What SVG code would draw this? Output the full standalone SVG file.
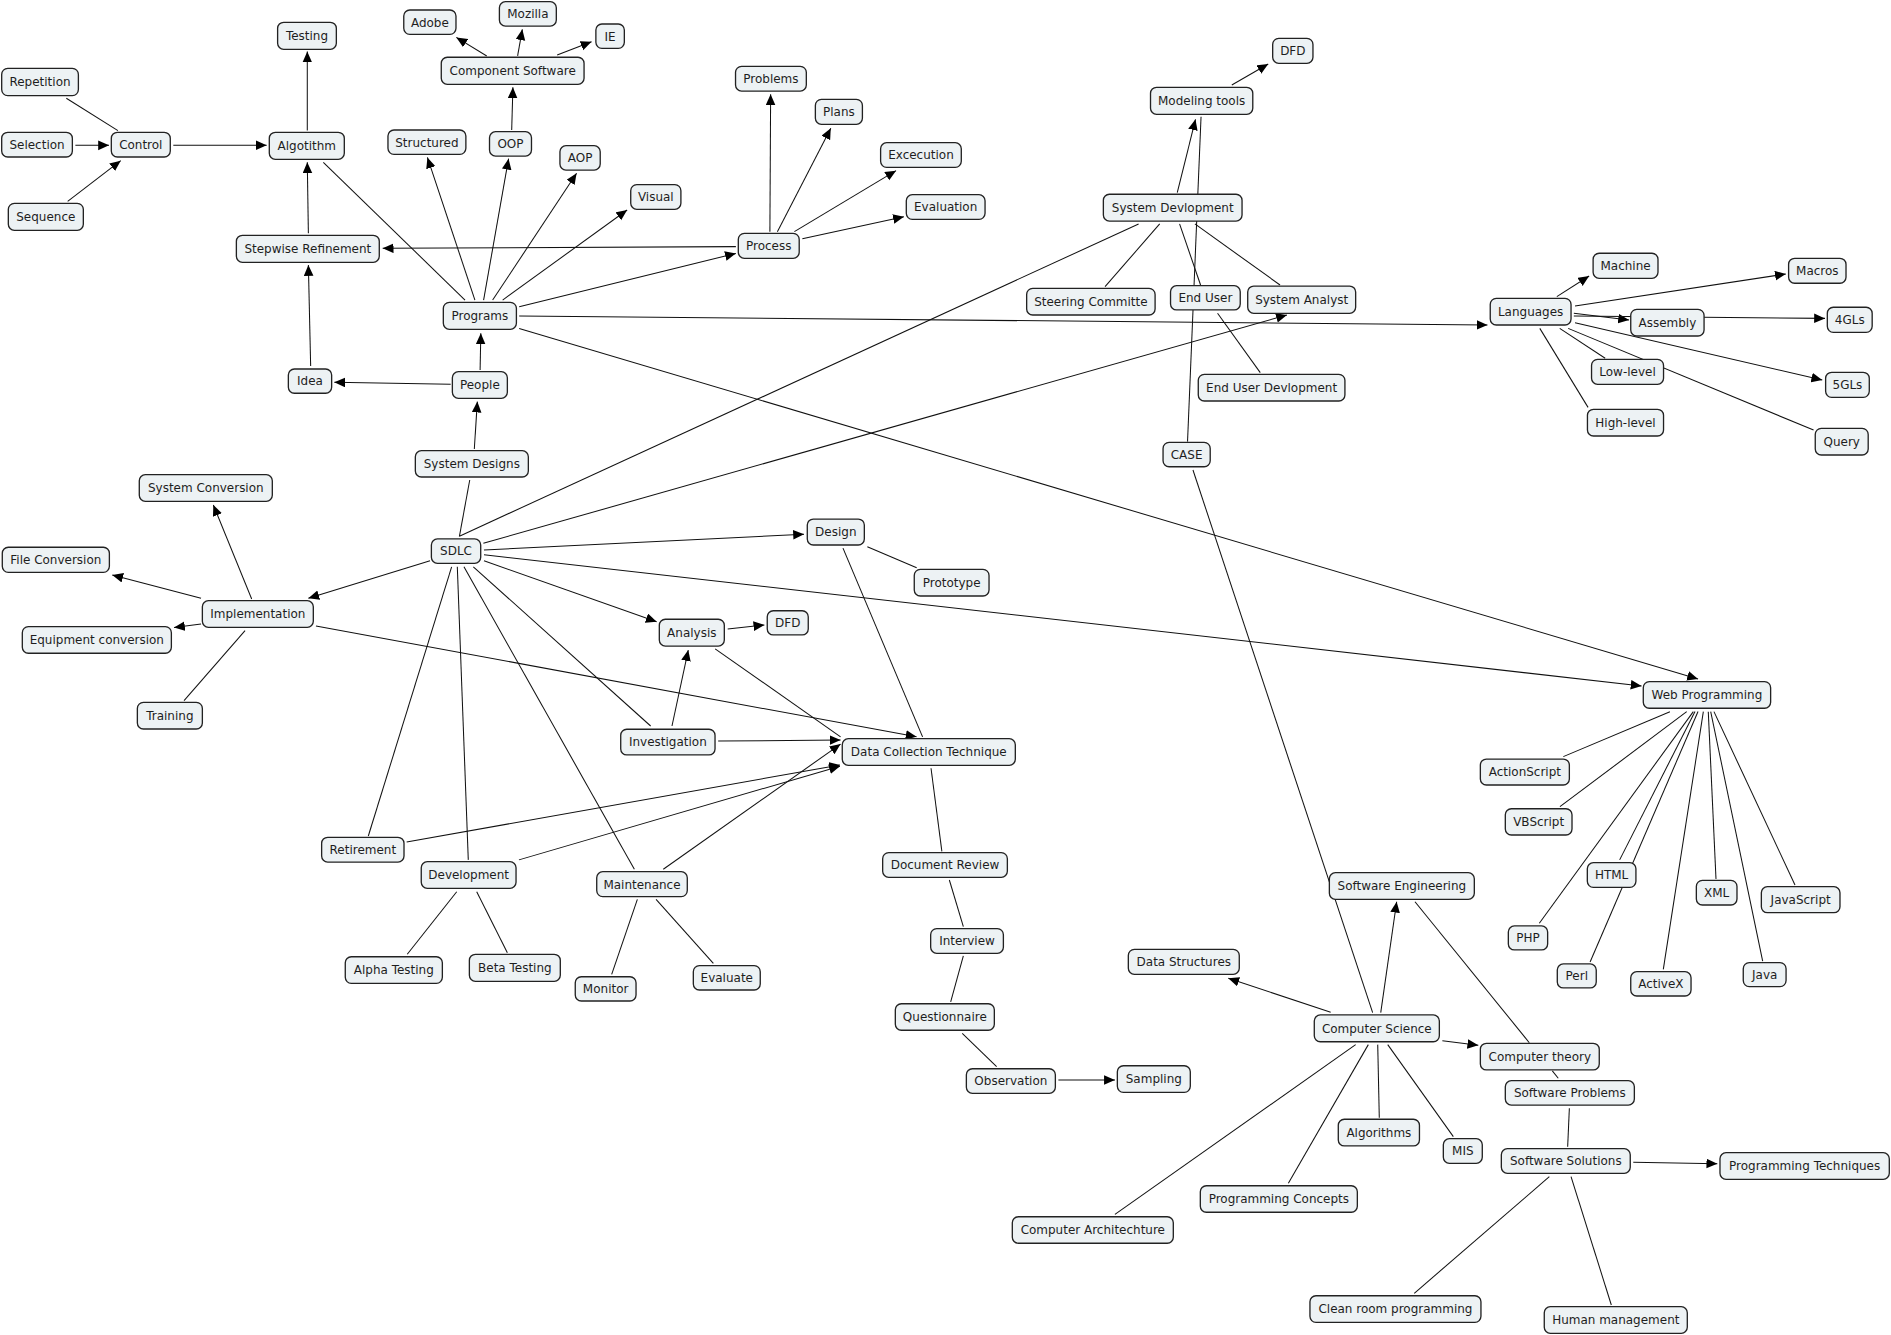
<svg xmlns="http://www.w3.org/2000/svg" width="1891" height="1335" viewBox="0 0 1891 1335">
<style>
.n rect{fill:#edf2f4;stroke:#222;stroke-width:1.1}
.n text{font-family:"DejaVu Sans","Liberation Sans",sans-serif;font-size:9.95px;fill:#1e1e1e;text-anchor:middle}
.c line{stroke:#111;stroke-width:0.85;fill:none}
.c line.a{marker-end:url(#ah)}
</style>
<defs>
<marker id="ah" markerUnits="userSpaceOnUse" markerWidth="10" markerHeight="9" refX="9" refY="4" orient="auto">
<path d="M0,0 L9,4 L0,8 z" fill="#000"/>
</marker>
</defs>
<rect x="0" y="0" width="1891" height="1335" fill="#fff"/>
<g transform="scale(1.20599)">
<g id="connectors" class="c">
<line x1="55" y1="81.5" x2="97.8" y2="108.3"/>
<line class="a" x1="62.5" y1="120.5" x2="90.4" y2="120.5"/>
<line class="a" x1="56.1" y1="167" x2="100.1" y2="133.2"/>
<line class="a" x1="143.7" y1="120.5" x2="221.1" y2="120.5"/>
<line class="a" x1="254.8" y1="108.3" x2="254.8" y2="42.8"/>
<line class="a" x1="255.7" y1="193.5" x2="254.8" y2="134.6"/>
<line x1="268.1" y1="134.6" x2="385.6" y2="248.8"/>
<line class="a" x1="610.2" y1="204.5" x2="317.3" y2="205.9"/>
<line class="a" x1="257.6" y1="303.5" x2="255.7" y2="219.7"/>
<line class="a" x1="373.7" y1="318.7" x2="277.2" y2="317"/>
<line class="a" x1="398.1" y1="306.8" x2="398.7" y2="276.4"/>
<line class="a" x1="393.3" y1="372.3" x2="395.8" y2="333"/>
<line x1="380.9" y1="445" x2="389.5" y2="398"/>
<line class="a" x1="393.8" y1="248.8" x2="354.4" y2="130.5"/>
<line class="a" x1="401" y1="248.8" x2="421.7" y2="131.6"/>
<line class="a" x1="408.5" y1="248.8" x2="478.1" y2="143.7"/>
<line class="a" x1="416.8" y1="248.8" x2="520" y2="174.1"/>
<line class="a" x1="424.3" y1="107.8" x2="425.3" y2="72.4"/>
<line class="a" x1="403.6" y1="46.4" x2="378.4" y2="31"/>
<line class="a" x1="429.2" y1="46.4" x2="433.1" y2="24.3"/>
<line class="a" x1="462" y1="45.6" x2="490.5" y2="34.6"/>
<line class="a" x1="430.5" y1="254.3" x2="610.2" y2="210.1"/>
<line class="a" x1="638.4" y1="192.1" x2="639" y2="78.2"/>
<line class="a" x1="644.6" y1="192.1" x2="688.9" y2="106.4"/>
<line class="a" x1="658.7" y1="192.1" x2="743" y2="141.5"/>
<line class="a" x1="665.3" y1="197.9" x2="749.5" y2="179.7"/>
<line class="a" x1="430.5" y1="262" x2="1233.4" y2="269.5"/>
<line class="a" x1="430.5" y1="272.3" x2="1408" y2="563"/>
<line x1="381.4" y1="444.4" x2="944.1" y2="185.7"/>
<line class="a" x1="400.8" y1="450.5" x2="1067.1" y2="261.2"/>
<line class="a" x1="401.3" y1="456" x2="666.7" y2="443"/>
<line class="a" x1="401.3" y1="460" x2="1361.2" y2="568.8"/>
<line class="a" x1="401.3" y1="465" x2="544.5" y2="515.5"/>
<line class="a" x1="356.6" y1="464.9" x2="255.7" y2="496.1"/>
<line x1="374.5" y1="470" x2="305.4" y2="693.2"/>
<line x1="379.2" y1="470" x2="388.3" y2="713"/>
<line x1="384.7" y1="470" x2="526" y2="720.8"/>
<line x1="392.5" y1="470" x2="539.5" y2="602"/>
<line class="a" x1="208.7" y1="496.7" x2="176.9" y2="418.7"/>
<line class="a" x1="166.7" y1="496.1" x2="93.1" y2="476.8"/>
<line class="a" x1="166.7" y1="517.4" x2="144.3" y2="520.4"/>
<line x1="203.2" y1="522.9" x2="152.6" y2="581"/>
<line class="a" x1="262" y1="519" x2="760" y2="611"/>
<line x1="719.2" y1="453.3" x2="760.1" y2="470.7"/>
<line x1="699" y1="454.5" x2="765" y2="611"/>
<line class="a" x1="603.4" y1="521.6" x2="633.8" y2="518.2"/>
<line x1="593" y1="538" x2="697" y2="611"/>
<line class="a" x1="557.2" y1="602" x2="570.7" y2="539"/>
<line class="a" x1="595.5" y1="614.5" x2="697" y2="613.6"/>
<line class="a" x1="337.2" y1="698.2" x2="696.5" y2="634.3"/>
<line class="a" x1="430.3" y1="713" x2="696.5" y2="635.3"/>
<line class="a" x1="550" y1="720.8" x2="697" y2="617"/>
<line x1="772" y1="637" x2="781" y2="706"/>
<line x1="787.2" y1="729.7" x2="798.8" y2="768.4"/>
<line x1="798.8" y1="792.7" x2="788.3" y2="830.8"/>
<line x1="797.9" y1="856.8" x2="826.4" y2="884.5"/>
<line class="a" x1="877.6" y1="895.5" x2="924.5" y2="895.5"/>
<line x1="378.7" y1="739.4" x2="337.7" y2="791.3"/>
<line x1="395.3" y1="739.4" x2="420.7" y2="790"/>
<line x1="528.5" y1="745.7" x2="507.2" y2="807.9"/>
<line x1="544" y1="745.7" x2="591.5" y2="798.8"/>
<line class="a" x1="976.2" y1="159.8" x2="991.3" y2="98.9"/>
<line x1="984.7" y1="366.2" x2="995.9" y2="96.8"/>
<line class="a" x1="1021.4" y1="70.5" x2="1051.6" y2="53.1"/>
<line x1="961.6" y1="185.7" x2="916.3" y2="237.7"/>
<line x1="978.1" y1="185.7" x2="995.5" y2="236.3"/>
<line x1="990.8" y1="185.7" x2="1061.4" y2="236.3"/>
<line x1="1009.6" y1="259.8" x2="1045" y2="309"/>
<line x1="989.2" y1="389.7" x2="1138.2" y2="839.7"/>
<line class="a" x1="1290.9" y1="246" x2="1317.7" y2="228.9"/>
<line class="a" x1="1306" y1="253.7" x2="1480.8" y2="227.2"/>
<line class="a" x1="1305" y1="259.8" x2="1350.8" y2="265.3"/>
<line class="a" x1="1305" y1="262" x2="1513.3" y2="264"/>
<line class="a" x1="1306" y1="267.6" x2="1511" y2="315.1"/>
<line x1="1293.3" y1="272.3" x2="1331" y2="297.1"/>
<line x1="1300.3" y1="272.3" x2="1503.8" y2="356.6"/>
<line x1="1276.8" y1="272.3" x2="1316.8" y2="337.8"/>
<line x1="1384.7" y1="590.1" x2="1296.3" y2="627.4"/>
<line x1="1398.6" y1="590.1" x2="1293.5" y2="668.9"/>
<line x1="1404.1" y1="590.1" x2="1276.4" y2="765.6"/>
<line x1="1405.5" y1="590" x2="1343" y2="713"/>
<line x1="1408" y1="590" x2="1318.5" y2="797.7"/>
<line x1="1412.4" y1="590.1" x2="1379.2" y2="803.8"/>
<line x1="1416.5" y1="590.1" x2="1422.9" y2="728.9"/>
<line x1="1418.5" y1="590.1" x2="1461.6" y2="796.9"/>
<line x1="1421.2" y1="590.1" x2="1488.4" y2="733.8"/>
<line class="a" x1="1103.4" y1="839.4" x2="1018.5" y2="811.2"/>
<line class="a" x1="1144.9" y1="839.7" x2="1158.1" y2="747.7"/>
<line class="a" x1="1196" y1="862.9" x2="1225.8" y2="866.8"/>
<line x1="1124.1" y1="866.2" x2="924.5" y2="1006.9"/>
<line x1="1134.6" y1="866.2" x2="1068.3" y2="981.2"/>
<line x1="1142.4" y1="866.2" x2="1143.7" y2="926.8"/>
<line x1="1150.7" y1="866.2" x2="1205.1" y2="942.5"/>
<line x1="1173.3" y1="747.7" x2="1268.1" y2="864.6"/>
<line x1="1287.2" y1="888" x2="1292.1" y2="894.1"/>
<line x1="1301.3" y1="919" x2="1299.9" y2="950.8"/>
<line class="a" x1="1354.3" y1="963.8" x2="1424" y2="964.9"/>
<line x1="1284.7" y1="975.7" x2="1172.7" y2="1072.4"/>
<line x1="1302.7" y1="975.7" x2="1336.1" y2="1082.1"/>
</g>
<g id="n1" class="n"><rect x="230.2" y="18.5" width="48.7" height="22.4" rx="5"/><text x="254.55" y="33.3">Testing</text></g>
<g id="n2" class="n"><rect x="1.4" y="56.7" width="63.6" height="22.6" rx="5"/><text x="33.2" y="71.6">Repetition</text></g>
<g id="n3" class="n"><rect x="1.4" y="109.7" width="58.6" height="20.5" rx="5"/><text x="30.7" y="123.55">Selection</text></g>
<g id="n4" class="n"><rect x="92.3" y="109.7" width="48.9" height="20.5" rx="5"/><text x="116.75" y="123.55">Control</text></g>
<g id="n5" class="n"><rect x="223.3" y="109.7" width="62.2" height="22.4" rx="5"/><text x="254.4" y="124.5">Algotithm</text></g>
<g id="n6" class="n"><rect x="6.9" y="168.6" width="62.2" height="22.4" rx="5"/><text x="38" y="183.4">Sequence</text></g>
<g id="n7" class="n"><rect x="196" y="195.1" width="118.5" height="22.4" rx="5"/><text x="255.25" y="209.9">Stepwise Refinement</text></g>
<g id="n8" class="n"><rect x="334.8" y="8.3" width="43.3" height="20.2" rx="5"/><text x="356.45" y="22">Adobe</text></g>
<g id="n9" class="n"><rect x="414.1" y="1.4" width="47.2" height="20.2" rx="5"/><text x="437.7" y="15.1">Mozilla</text></g>
<g id="n10" class="n"><rect x="494.1" y="19.9" width="23.6" height="20.2" rx="5"/><text x="505.9" y="33.6">IE</text></g>
<g id="n11" class="n"><rect x="365.9" y="47.5" width="118.4" height="22.4" rx="5"/><text x="425.1" y="62.3">Component Software</text></g>
<g id="n12" class="n"><rect x="321.7" y="107.8" width="64.6" height="20.2" rx="5"/><text x="354" y="121.5">Structured</text></g>
<g id="n13" class="n"><rect x="405.9" y="109.2" width="34.8" height="20.2" rx="5"/><text x="423.3" y="122.9">OOP</text></g>
<g id="n14" class="n"><rect x="464.3" y="120.8" width="33.4" height="20.2" rx="5"/><text x="481" y="134.5">AOP</text></g>
<g id="n15" class="n"><rect x="523" y="153.1" width="41.6" height="20.5" rx="5"/><text x="543.8" y="166.95">Visual</text></g>
<g id="n16" class="n"><rect x="609.9" y="55" width="58.7" height="20.5" rx="5"/><text x="639.25" y="68.85">Problems</text></g>
<g id="n17" class="n"><rect x="676.1" y="82.4" width="39" height="20.7" rx="5"/><text x="695.6" y="96.35">Plans</text></g>
<g id="n18" class="n"><rect x="730.2" y="118.3" width="66.9" height="20.5" rx="5"/><text x="763.65" y="132.15">Excecution</text></g>
<g id="n19" class="n"><rect x="751.5" y="161.4" width="65.3" height="20.5" rx="5"/><text x="784.15" y="175.25">Evaluation</text></g>
<g id="n20" class="n"><rect x="612.2" y="193.5" width="50.5" height="20.7" rx="5"/><text x="637.45" y="207.45">Process</text></g>
<g id="n21" class="n"><rect x="367.6" y="250.7" width="60.6" height="22.4" rx="5"/><text x="397.9" y="265.5">Programs</text></g>
<g id="n22" class="n"><rect x="239.1" y="306" width="35.9" height="20.1" rx="5"/><text x="257.05" y="319.65">Idea</text></g>
<g id="n23" class="n"><rect x="375.1" y="308.2" width="45.6" height="22.1" rx="5"/><text x="397.9" y="322.85">People</text></g>
<g id="n24" class="n"><rect x="344.4" y="373.7" width="93.7" height="21.8" rx="5"/><text x="391.25" y="388.2">System Designs</text></g>
<g id="n25" class="n"><rect x="115.5" y="393.6" width="110.3" height="22.1" rx="5"/><text x="170.65" y="408.25">System Conversion</text></g>
<g id="n26" class="n"><rect x="1.9" y="453.8" width="88.8" height="20.8" rx="5"/><text x="46.3" y="467.8">File Conversion</text></g>
<g id="n27" class="n"><rect x="357.7" y="446.9" width="40.9" height="20.2" rx="5"/><text x="378.15" y="460.6">SDLC</text></g>
<g id="n28" class="n"><rect x="167.8" y="498.1" width="92" height="22.1" rx="5"/><text x="213.8" y="512.75">Implementation</text></g>
<g id="n29" class="n"><rect x="18.5" y="519.6" width="123.6" height="22.1" rx="5"/><text x="80.3" y="534.25">Equipment conversion</text></g>
<g id="n30" class="n"><rect x="113.9" y="582.4" width="53.9" height="22.1" rx="5"/><text x="140.85" y="597.05">Training</text></g>
<g id="n31" class="n"><rect x="669.4" y="430.4" width="47.3" height="21.5" rx="5"/><text x="693.05" y="444.75">Design</text></g>
<g id="n32" class="n"><rect x="758.1" y="472.1" width="62" height="22.1" rx="5"/><text x="789.1" y="486.75">Prototype</text></g>
<g id="n33" class="n"><rect x="546.7" y="513.5" width="53.9" height="22.2" rx="5"/><text x="573.65" y="528.2">Analysis</text></g>
<g id="n34" class="n"><rect x="636.2" y="506.4" width="34" height="20.1" rx="5"/><text x="653.2" y="520.05">DFD</text></g>
<g id="n35" class="n"><rect x="514.7" y="604.7" width="78.2" height="21.3" rx="5"/><text x="553.8" y="618.95">Investigation</text></g>
<g id="n36" class="n"><rect x="698.4" y="612.5" width="143.5" height="22.1" rx="5"/><text x="770.15" y="627.15">Data Collection Technique</text></g>
<g id="n37" class="n"><rect x="266.7" y="694.3" width="68.3" height="20.5" rx="5"/><text x="300.85" y="708.15">Retirement</text></g>
<g id="n38" class="n"><rect x="349.3" y="714.5" width="78.6" height="22.1" rx="5"/><text x="388.6" y="729.15">Development</text></g>
<g id="n39" class="n"><rect x="494.8" y="722.8" width="75.1" height="20.7" rx="5"/><text x="532.35" y="736.75">Maintenance</text></g>
<g id="n40" class="n"><rect x="286.3" y="793.3" width="80.5" height="22.1" rx="5"/><text x="326.55" y="807.95">Alpha Testing</text></g>
<g id="n41" class="n"><rect x="389.2" y="791.3" width="75.4" height="22.4" rx="5"/><text x="426.9" y="806.1">Beta Testing</text></g>
<g id="n42" class="n"><rect x="477" y="809.9" width="50.4" height="20.1" rx="5"/><text x="502.2" y="823.55">Monitor</text></g>
<g id="n43" class="n"><rect x="574.9" y="800.7" width="55.5" height="20.2" rx="5"/><text x="602.65" y="814.4">Evaluate</text></g>
<g id="n44" class="n"><rect x="731.9" y="707" width="103.4" height="20.5" rx="5"/><text x="783.6" y="720.85">Document Review</text></g>
<g id="n45" class="n"><rect x="771.7" y="770" width="60.3" height="20.5" rx="5"/><text x="801.85" y="783.85">Interview</text></g>
<g id="n46" class="n"><rect x="742.4" y="832.3" width="82.1" height="22" rx="5"/><text x="783.45" y="846.9">Questionnaire</text></g>
<g id="n47" class="n"><rect x="801.3" y="886.2" width="73.8" height="20.4" rx="5"/><text x="838.2" y="900">Observation</text></g>
<g id="n48" class="n"><rect x="926.5" y="883.7" width="60.5" height="22.1" rx="5"/><text x="956.75" y="898.35">Sampling</text></g>
<g id="n49" class="n"><rect x="1055.3" y="31.8" width="33.4" height="20.7" rx="5"/><text x="1072" y="45.75">DFD</text></g>
<g id="n50" class="n"><rect x="954" y="72.4" width="84.8" height="22.4" rx="5"/><text x="996.4" y="87.2">Modeling tools</text></g>
<g id="n51" class="n"><rect x="914.9" y="161.1" width="115" height="22.2" rx="5"/><text x="972.4" y="175.8">System Devlopment</text></g>
<g id="n52" class="n"><rect x="851.3" y="239.1" width="106.5" height="22.1" rx="5"/><text x="904.55" y="253.75">Steering Committe</text></g>
<g id="n53" class="n"><rect x="970.6" y="236.9" width="57.8" height="20.1" rx="5"/><text x="999.5" y="250.55">End User</text></g>
<g id="n54" class="n"><rect x="1034.6" y="237.2" width="89.5" height="22.6" rx="5"/><text x="1079.35" y="252.1">System Analyst</text></g>
<g id="n55" class="n"><rect x="993.6" y="310.4" width="121.6" height="22.1" rx="5"/><text x="1054.4" y="325.05">End User Devlopment</text></g>
<g id="n56" class="n"><rect x="964.4" y="366.8" width="39.1" height="20.2" rx="5"/><text x="983.95" y="380.5">CASE</text></g>
<g id="n57" class="n"><rect x="1235.7" y="247.4" width="67" height="22.1" rx="5"/><text x="1269.2" y="262.05">Languages</text></g>
<g id="n58" class="n"><rect x="1321" y="210" width="53.8" height="20.8" rx="5"/><text x="1347.9" y="224">Machine</text></g>
<g id="n59" class="n"><rect x="1483.1" y="214.2" width="47.6" height="20.7" rx="5"/><text x="1506.9" y="228.15">Macros</text></g>
<g id="n60" class="n"><rect x="1352.2" y="256.5" width="60.8" height="22.1" rx="5"/><text x="1382.6" y="271.15">Assembly</text></g>
<g id="n61" class="n"><rect x="1515.2" y="254.8" width="37.2" height="20.8" rx="5"/><text x="1533.8" y="268.8">4GLs</text></g>
<g id="n62" class="n"><rect x="1319.7" y="298" width="59.7" height="20.7" rx="5"/><text x="1349.55" y="311.95">Low-level</text></g>
<g id="n63" class="n"><rect x="1513.8" y="308.7" width="36.2" height="20.8" rx="5"/><text x="1531.9" y="322.7">5GLs</text></g>
<g id="n64" class="n"><rect x="1316.3" y="339.4" width="63.1" height="22.1" rx="5"/><text x="1347.85" y="354.05">High-level</text></g>
<g id="n65" class="n"><rect x="1505.2" y="355.2" width="43.9" height="22.1" rx="5"/><text x="1527.15" y="369.85">Query</text></g>
<g id="n66" class="n"><rect x="1362.6" y="565.2" width="105.6" height="22.1" rx="5"/><text x="1415.4" y="579.85">Web Programming</text></g>
<g id="n67" class="n"><rect x="1227.5" y="629.4" width="73.8" height="21.5" rx="5"/><text x="1264.4" y="643.75">ActionScript</text></g>
<g id="n68" class="n"><rect x="1248.2" y="670.6" width="55.3" height="21.8" rx="5"/><text x="1275.85" y="685.1">VBScript</text></g>
<g id="n69" class="n"><rect x="1316.2" y="715.3" width="40.3" height="20.5" rx="5"/><text x="1336.35" y="729.15">HTML</text></g>
<g id="n70" class="n"><rect x="1406.6" y="730" width="33.7" height="20.4" rx="5"/><text x="1423.45" y="743.8">XML</text></g>
<g id="n71" class="n"><rect x="1460.5" y="735.2" width="65.2" height="21.6" rx="5"/><text x="1493.1" y="749.6">JavaScript</text></g>
<g id="n72" class="n"><rect x="1250.7" y="767.8" width="32.6" height="19.9" rx="5"/><text x="1267" y="781.35">PHP</text></g>
<g id="n73" class="n"><rect x="1291.3" y="799.3" width="32.3" height="19.9" rx="5"/><text x="1307.45" y="812.85">Perl</text></g>
<g id="n74" class="n"><rect x="1352.2" y="805.7" width="50" height="20.2" rx="5"/><text x="1377.2" y="819.4">ActiveX</text></g>
<g id="n75" class="n"><rect x="1445.5" y="798.2" width="35.5" height="19.9" rx="5"/><text x="1463.25" y="811.75">Java</text></g>
<g id="n76" class="n"><rect x="1102.3" y="723.6" width="120.2" height="22.1" rx="5"/><text x="1162.4" y="738.25">Software Engineering</text></g>
<g id="n77" class="n"><rect x="935.6" y="787.2" width="92" height="20.7" rx="5"/><text x="981.6" y="801.15">Data Structures</text></g>
<g id="n78" class="n"><rect x="1089.8" y="841.6" width="103.7" height="22.2" rx="5"/><text x="1141.65" y="856.3">Computer Science</text></g>
<g id="n79" class="n"><rect x="1227.5" y="865.1" width="98.6" height="22.1" rx="5"/><text x="1276.8" y="879.75">Computer theory</text></g>
<g id="n80" class="n"><rect x="1248.2" y="896.1" width="107" height="20.2" rx="5"/><text x="1301.7" y="909.8">Software Problems</text></g>
<g id="n81" class="n"><rect x="1109.7" y="928.1" width="67.3" height="22.1" rx="5"/><text x="1143.35" y="942.75">Algorithms</text></g>
<g id="n82" class="n"><rect x="1196.8" y="944.2" width="32.3" height="20.4" rx="5"/><text x="1212.95" y="958">MIS</text></g>
<g id="n83" class="n"><rect x="1244.9" y="952.5" width="106.9" height="20.4" rx="5"/><text x="1298.35" y="966.3">Software Solutions</text></g>
<g id="n84" class="n"><rect x="1426.2" y="955.8" width="140.4" height="22.1" rx="5"/><text x="1496.4" y="970.45">Programming Techniques</text></g>
<g id="n85" class="n"><rect x="995.3" y="983.2" width="130.2" height="22" rx="5"/><text x="1060.4" y="997.8">Programming Concepts</text></g>
<g id="n86" class="n"><rect x="839.4" y="1008.9" width="133.5" height="22" rx="5"/><text x="906.15" y="1023.5">Computer Architechture</text></g>
<g id="n87" class="n"><rect x="1086.2" y="1074.4" width="141.8" height="22.1" rx="5"/><text x="1157.1" y="1089.05">Clean room programming</text></g>
<g id="n88" class="n"><rect x="1280.5" y="1083.5" width="118.6" height="22.1" rx="5"/><text x="1339.8" y="1098.15">Human management</text></g>
</g>
</svg>
